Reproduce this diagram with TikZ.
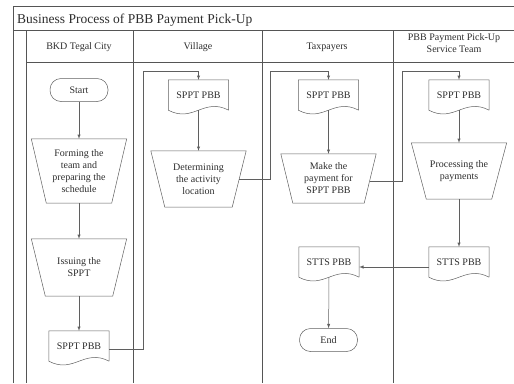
\documentclass[tikz,border=0pt]{standalone}
\usepackage{fontspec}
\setmainfont{Liberation Serif}
\usepackage{tikz}
\definecolor{frame}{RGB}{85, 85, 85}
\definecolor{flow}{RGB}{95, 95, 95}
\definecolor{ink}{RGB}{45, 45, 45}

\begin{document}
\begin{tikzpicture}[x=1pt, y=-1pt,
    every node/.style={text=ink, font=\fontsize{10}{12}\selectfont},
    lane/.style={draw=frame, line width=0.8pt},
    terminal/.style={draw=flow, line width=0.5pt, rounded corners=11pt, minimum width=58pt, minimum height=23pt, inner sep=0pt},
    process/.style={minimum width=95pt, align=center, inner sep=1pt},
    docu/.style={minimum width=60pt, minimum height=30pt, inner sep=0pt},
    outline/.style={draw=flow, line width=0.5pt},
    link/.style={draw=flow, line width=0.5pt, -latex}]
        \useasboundingbox (0,0) rectangle (514,383);

        % Pool and lanes
        \draw[lane] (13,383) -- (13,6) -- (514,6);
        \draw[lane] (13,30) -- (514,30);
        \draw[lane] (26,30) -- (26,383);
        \draw[lane] (26,62) -- (514,62);
        \foreach \x in {133,262,393}
            \draw[lane] (\x,30) -- (\x,383);

        \node[anchor=base west, inner sep=0pt, font=\fontsize{13.5}{16}\selectfont] (title) at (17,23) {Business Process of PBB Payment Pick-Up};
        \node (bkd) at (79,47) {BKD Tegal City};
        \node (village) at (198,47) {Village};
        \node (taxpayers) at (327,47) {Taxpayers};
        \node[align=center] (team) at (454,43) {PBB Payment Pick-Up\\Service Team};

        % BKD Tegal City
        \node[terminal] (start) at (79,90) {Start};
        \node[process, minimum height=64pt] (forming) at (79,171) {Forming the\\team and\\preparing the\\schedule};
        \node[process, minimum height=57pt] (issuing) at (79,267.5) {Issuing the\\SPPT};
        \node[docu] (doc1) at (79,346) {SPPT PBB};

        % Village
        \node[docu] (doc2) at (198.5,95) {SPPT PBB};
        \node[process, minimum height=56pt] (determ) at (198.5,179) {Determining\\the activity\\location};

        % Taxpayers
        \node[docu] (doc3) at (328.5,95) {SPPT PBB};
        \node[process, minimum height=49pt] (pay) at (328.5,178.5) {Make the\\payment for\\SPPT PBB};
        \node[docu] (stts3) at (329,262) {STTS PBB};
        \node[terminal] (end) at (328.5,340) {End};

        % Service team
        \node[docu] (doc4) at (459,95) {SPPT PBB};
        \node[process, minimum height=56pt] (proc) at (459,171) {Processing the\\payments};
        \node[docu] (stts4) at (459,262) {STTS PBB};

        % Manual operation outlines
        \foreach \p/\i in {forming/15, issuing/14, determ/14, pay/12, proc/15}
            \draw[outline] (\p.north west) -- (\p.north east) -- ([xshift=-\i pt]\p.south east)
                -- ([xshift=\i pt]\p.south west) -- cycle;

        % Document outlines
        \foreach \d in {doc1,doc2,doc3,doc4,stts3,stts4}
            \draw[outline] (\d.south east) -- (\d.north east) -- (\d.north west) -- (\d.south west)
                .. controls ([xshift=25pt, yshift=-13pt]\d.south west) and ([xshift=-25pt, yshift=13pt]\d.south east) .. (\d.south east);

        % Flow
        \coordinate (j1) at (143,71);
        \coordinate (j2) at (270.5,71);
        \coordinate (j3) at (402,71);
        \draw[link] (start) -- (forming);
        \draw[link] (forming) -- (issuing);
        \draw[link] (issuing) -- (doc1);
        \draw[link] ([yshift=-3pt]doc1.east) -| (j1) -| (doc2.north);
        \draw[link] (doc2.south) -- (determ);
        \draw[link] ([xshift=-7pt]determ.east) -| (j2) -| (doc3.north);
        \draw[link] (doc3.south) -- (pay);
        \draw[link] ([xshift=-6pt, yshift=-3pt]pay.east) -| (j3) -| (doc4.north);
        \draw[link] (doc4.south) -- (proc);
        \draw[link] (proc) -- (stts4);
        \draw[link] ([yshift=-5pt]stts4.west) -- ([yshift=-5pt]stts3.east);
        \draw[link] (stts3.south) -- (end);
    \end{tikzpicture}
\end{document}
